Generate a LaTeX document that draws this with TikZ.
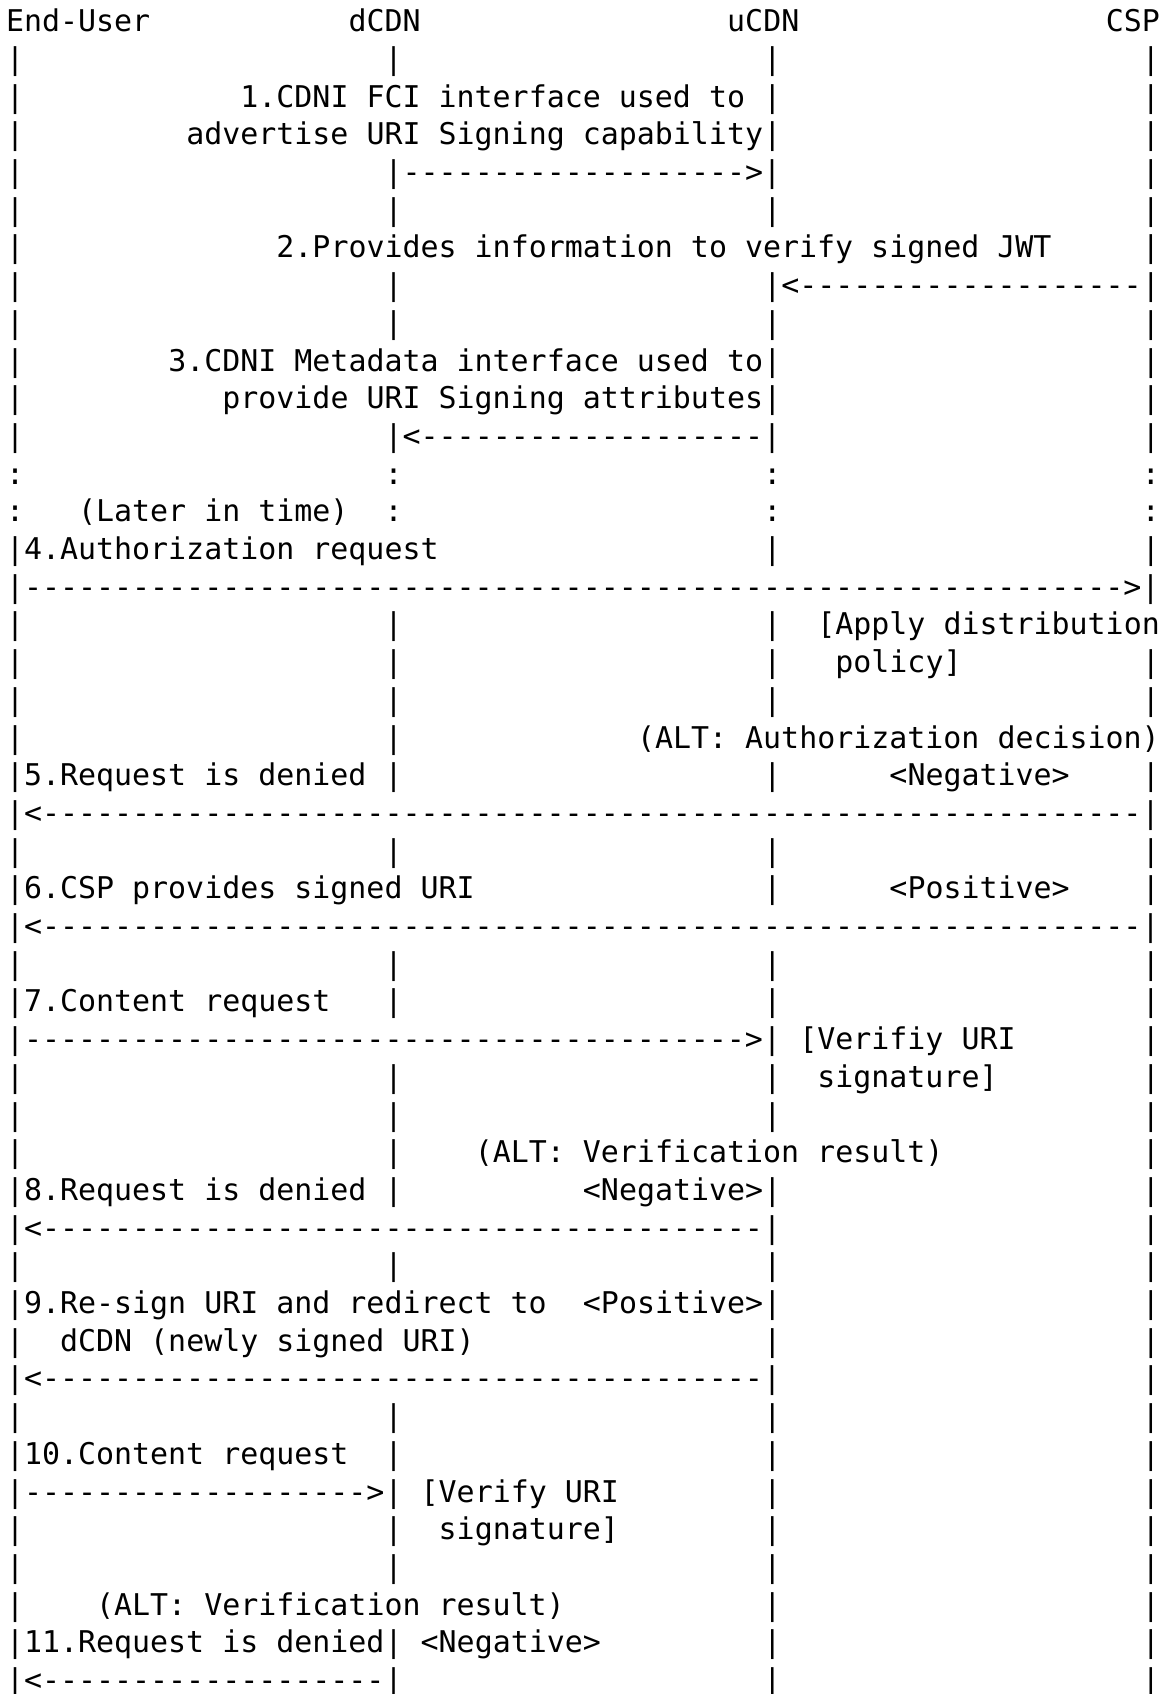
\documentclass[tikz,border=0pt]{standalone}
\usepackage{fontspec}
\setmonofont{DejaVu Sans Mono}
\ExplSyntaxOn
\NewDocumentCommand\dashes{m}{\prg_replicate:nn{#1}{-{}}}
\ExplSyntaxOff
\def\cw{9.015pt}
\def\lh{18.85pt}
\tikzset{txt/.style={anchor=base west, inner sep=0pt, outer sep=0pt,
  font=\ttfamily\fontsize{14.97pt}{18pt}\selectfont, text=black}}
\newcommand\seg[3]{\node[txt] (r#1c#2) at ({3pt+#2*\cw},{-15.85pt-(#1-1)*\lh}) {#3};}
\newcommand\bars[2]{\foreach \c in {#2}{\seg{#1}{\c}{|}}}
\newcommand\colons[2]{\foreach \c in {#2}{\seg{#1}{\c}{:}}}
\begin{document}
\begin{tikzpicture}
\fill[white] (0,0) rectangle (587.5pt,-847pt);
\useasboundingbox (0,0) rectangle (587.5pt,-847pt);
% 1
\seg{1}{0}{End-User}\seg{1}{19}{dCDN}\seg{1}{40}{uCDN}\seg{1}{61}{CSP}
\bars{2}{0,21,42,63}
\bars{3}{0,42,63}\seg{3}{13}{1.CDNI FCI interface used to}
\bars{4}{0,42,63}\seg{4}{10}{advertise URI Signing capability}
\bars{5}{0,63}\seg{5}{21}{|\dashes{19}>|}
\bars{6}{0,21,42,63}
\bars{7}{0,63}\seg{7}{15}{2.Provides information to verify signed JWT}
\bars{8}{0,21}\seg{8}{42}{|<\dashes{19}|}
\bars{9}{0,21,42,63}
\bars{10}{0,42,63}\seg{10}{9}{3.CDNI Metadata interface used to}
\bars{11}{0,42,63}\seg{11}{12}{provide URI Signing attributes}
\bars{12}{0,63}\seg{12}{21}{|<\dashes{19}|}
\colons{13}{0,21,42,63}
\colons{14}{0,21,42,63}\seg{14}{4}{(Later in time)}
\seg{15}{0}{|4.Authorization request}\bars{15}{42,63}
\seg{16}{0}{|\dashes{61}>|}
\bars{17}{0,21,42}\seg{17}{45}{[Apply distribution}
\bars{18}{0,21,42,63}\seg{18}{46}{policy]}
\bars{19}{0,21,42,63}
\bars{20}{0,21}\seg{20}{35}{(ALT: Authorization decision)}
\seg{21}{0}{|5.Request is denied}\bars{21}{21,42,63}\seg{21}{49}{<Negative>}
\seg{22}{0}{|<\dashes{61}|}
\bars{23}{0,21,42,63}
\seg{24}{0}{|6.CSP provides signed URI}\bars{24}{42,63}\seg{24}{49}{<Positive>}
\seg{25}{0}{|<\dashes{61}|}
\bars{26}{0,21,42,63}
\seg{27}{0}{|7.Content request}\bars{27}{21,42,63}
\seg{28}{0}{|\dashes{40}>|}\seg{28}{44}{[Verifiy URI}\bars{28}{63}
\bars{29}{0,21,42,63}\seg{29}{45}{signature]}
\bars{30}{0,21,42,63}
\bars{31}{0,21,63}\seg{31}{26}{(ALT: Verification result)}
\seg{32}{0}{|8.Request is denied}\bars{32}{21,42,63}\seg{32}{32}{<Negative>}
\seg{33}{0}{|<\dashes{40}|}\bars{33}{63}
\bars{34}{0,21,42,63}
\seg{35}{0}{|9.Re-sign URI and redirect to}\seg{35}{32}{<Positive>}\bars{35}{42,63}
\bars{36}{0,42,63}\seg{36}{3}{dCDN (newly signed URI)}
\seg{37}{0}{|<\dashes{40}|}\bars{37}{63}
\bars{38}{0,21,42,63}
\seg{39}{0}{|10.Content request}\bars{39}{21,42,63}
\seg{40}{0}{|\dashes{19}>|}\seg{40}{23}{[Verify URI}\bars{40}{42,63}
\bars{41}{0,21,42,63}\seg{41}{24}{signature]}
\bars{42}{0,21,42,63}
\bars{43}{0,42,63}\seg{43}{5}{(ALT: Verification result)}
\seg{44}{0}{|11.Request is denied}\bars{44}{21,42,63}\seg{44}{23}{<Negative>}
\seg{45}{0}{|<\dashes{19}|}\bars{45}{42,63}
\end{tikzpicture}
\end{document}
